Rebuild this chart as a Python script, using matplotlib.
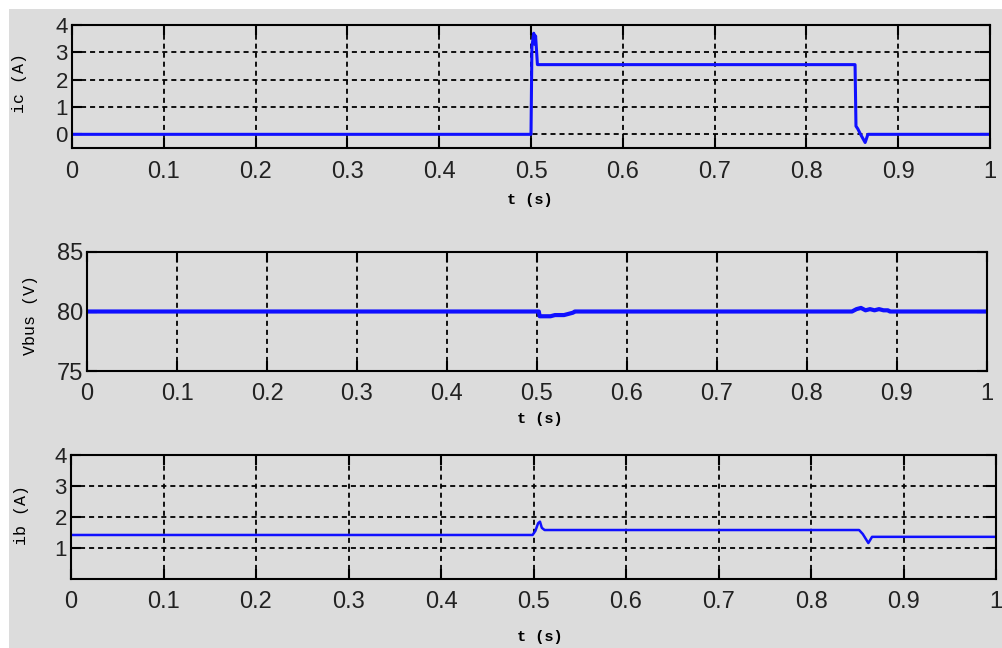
import matplotlib
matplotlib.use("Agg")
import matplotlib.pyplot as plt
from matplotlib.patches import Rectangle

# values (breakpoints of each trace)
t_ic = [0, 0.5, 0.501, 0.503, 0.504, 0.505, 0.507, 0.853, 0.854, 0.856, 0.859, 0.864, 0.867, 1.0]
ic = [0, 0, 3.2, 3.7, 3.3, 3.6, 2.55, 2.55, 0.3, 0.2, 0.0, -0.3, 0.0, 0.0]

t_vbus = [0, 0.502, 0.503, 0.515, 0.52, 0.53, 0.535, 0.54, 0.542, 0.85, 0.855, 0.86,
          0.865, 0.87, 0.875, 0.88, 0.885, 0.89, 0.892, 1.0]
vbus = [80, 80, 79.6, 79.6, 79.7, 79.7, 79.8, 79.9, 80, 80, 80.2, 80.3,
        80.1, 80.2, 80.1, 80.2, 80.1, 80.1, 80, 80]

t_ib = [0, 0.499, 0.502, 0.505, 0.507, 0.509, 0.512, 0.852, 0.856, 0.862, 0.866, 1.0]
ib = [1.42, 1.42, 1.55, 1.8, 1.85, 1.65, 1.58, 1.58, 1.45, 1.16, 1.36, 1.36]

x_ticks = [0, 0.1, 0.2, 0.3, 0.4, 0.5, 0.6, 0.7, 0.8, 0.9, 1.0]
x_labels = ["0", "0.1", "0.2", "0.3", "0.4", "0.5", "0.6", "0.7", "0.8", "0.9", "1"]

W, H = 1003, 648
BG = "#dcdcdc"
fig = plt.figure(figsize=(W / 100, H / 100), dpi=100, facecolor="white")
fig.patches.append(Rectangle((9 / W, 0), 1, 1 - 9 / H, transform=fig.transFigure,
                             facecolor=BG, edgecolor="none", zorder=-10))

sans = ["Liberation Sans", "DejaVu Sans"]
mono = ["Liberation Mono", "DejaVu Sans Mono"]


def add_axes(l, r, t, b):
    return fig.add_axes([l / W, 1 - b / H, (r - l) / W, (b - t) / H])


def style(ax, ylim, yticks, ylabels, hgrid=True, ysize=16):
    ax.set_facecolor(BG)
    ax.set_xlim(0, 1)
    ax.set_ylim(*ylim)
    ax.set_xticks(x_ticks)
    ax.set_xticklabels(x_labels, family=sans, fontsize=17, color="#222222")
    ax.set_yticks(yticks)
    ax.set_yticklabels(ylabels, family=sans, fontsize=ysize, color="#222222")
    ax.tick_params(direction="in", length=7, width=1.5, top=True, right=True, pad=9)
    ax.tick_params(axis="y", pad=3)
    for s in ax.spines.values():
        s.set_linewidth(1.5)
    ax.grid(True, axis="x", color="black", lw=1.3, ls=(0, (2.8, 2.2)))
    if hgrid:
        ax.grid(True, axis="y", color="black", lw=1.3, ls=(0, (2.8, 2.2)))
    ax.set_axisbelow(True)


# top: ic
ax1 = add_axes(72, 990, 25, 148)
ax1.plot(t_ic, ic, color="#1010ff", lw=2.2)
style(ax1, (-0.5, 4), [0, 1, 2, 3, 4], ["0", "1", "2", "3", "4"])
fig.text(20 / W, 1 - 83 / H, "ic (A)", rotation=90, ha="center", va="center",
         family=mono, fontsize=12)
fig.text(530 / W, 1 - 200 / H, "t (s)", ha="center", va="center", family=mono,
         fontsize=11, weight="bold")

# middle: Vbus
ax2 = add_axes(87, 987, 252, 371)
ax2.plot(t_vbus, vbus, color="#1010ff", lw=3)
style(ax2, (75, 85), [75, 80, 85], ["75", "80", "85"], hgrid=False, ysize=17)
fig.text(31 / W, 1 - 315 / H, "Vbus (V)", rotation=90, ha="center", va="center",
         family=mono, fontsize=12)
fig.text(540 / W, 1 - 419 / H, "t (s)", ha="center", va="center", family=mono,
         fontsize=11, weight="bold")

# bottom: ib
ax3 = add_axes(71, 996, 455, 579)
ax3.plot(t_ib, ib, color="#1010ff", lw=1.8)
style(ax3, (0, 4), [1, 2, 3, 4], ["1", "2", "3", "4"])
fig.text(22 / W, 1 - 515 / H, "ib (A)", rotation=90, ha="center", va="center",
         family=mono, fontsize=12)
fig.text(540 / W, 1 - 637 / H, "t (s)", ha="center", va="center", family=mono,
         fontsize=11, weight="bold")

fig.savefig("out.png", dpi=100, facecolor=fig.get_facecolor())
